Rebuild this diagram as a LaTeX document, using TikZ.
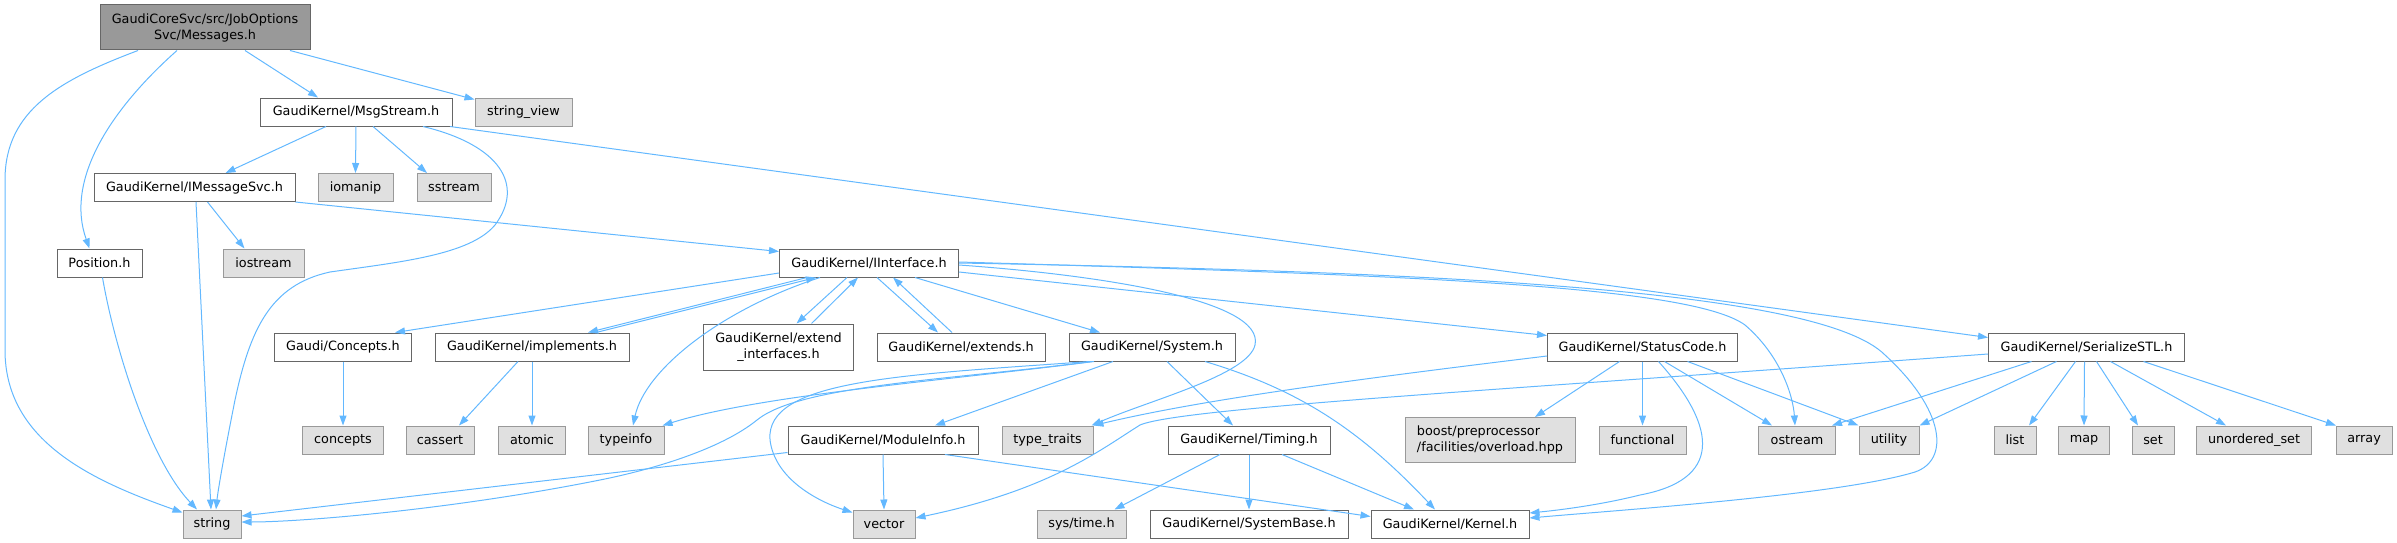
\documentclass[tikz,border=0pt]{standalone}
\usepackage{fontspec}
\setmainfont{DejaVu Sans}
\usetikzlibrary{arrows.meta}
\definecolor{edgec}{HTML}{63B8FF}
\definecolor{bord}{HTML}{666666}
\definecolor{gbord}{HTML}{999999}
\definecolor{gfill}{HTML}{E0E0E0}
\definecolor{rfill}{HTML}{999999}
\begin{document}
\begin{tikzpicture}[x=1pt,y=-1pt,
  base/.style={draw, rectangle, inner sep=0pt, minimum height=28pt, line width=1pt, font=\fontsize{12.8}{16}\selectfont, text=black},
  wn/.style={base, draw=bord, fill=white},
  gn/.style={base, draw=gbord, fill=gfill},
  rn/.style={base, draw=bord, fill=rfill, minimum height=45pt, align=center},
  dep/.style={draw=edgec, line width=1pt, -{Triangle[length=10pt,width=7pt]}},
]
\useasboundingbox (0,0) rectangle (2397,543);

\node[rn, minimum width=210pt] (root) at (205,27.5) {GaudiCoreSvc/src/JobOptions\\Svc/Messages.h};
\node[wn, minimum width=192pt] (msg) at (356,112) {GaudiKernel/MsgStream.h};
\node[gn, minimum width=97pt] (sview) at (523.5,112) {string\_view};
\node[wn, minimum width=201pt] (imsg) at (194.5,187.5) {GaudiKernel/IMessageSvc.h};
\node[gn, minimum width=75pt] (iomanip) at (355.5,187.5) {iomanip};
\node[gn, minimum width=74pt] (sstream) at (454,187.5) {sstream};
\node[wn, minimum width=85pt] (pos) at (99.5,263) {Position.h};
\node[gn, minimum width=81pt] (iostream) at (263.5,263) {iostream};
\node[wn, minimum width=179pt] (iint) at (869,263) {GaudiKernel/IInterface.h};
\node[wn, minimum width=137pt] (conh) at (343,347) {Gaudi/Concepts.h};
\node[wn, minimum width=194pt] (impl) at (532,347) {GaudiKernel/implements.h};
\node[wn, minimum width=150pt, minimum height=46pt, align=center] (extint) at (778.5,347) {GaudiKernel/extend\\\_interfaces.h};
\node[wn, minimum width=168pt] (extends) at (961,347) {GaudiKernel/extends.h};
\node[wn, minimum width=166pt] (system) at (1152,347) {GaudiKernel/System.h};
\node[wn, minimum width=190pt] (status) at (1642.5,347) {GaudiKernel/StatusCode.h};
\node[wn, minimum width=196pt] (serial) at (2086.5,347) {GaudiKernel/SerializeSTL.h};
\node[gn, minimum width=81pt] (concepts) at (343,440) {concepts};
\node[gn, minimum width=68pt] (cassert) at (440,440) {cassert};
\node[gn, minimum width=67pt] (atomic) at (532,440) {atomic};
\node[gn, minimum width=76pt] (typeinfo) at (626,440) {typeinfo};
\node[wn, minimum width=190pt] (modinfo) at (883,440) {GaudiKernel/ModuleInfo.h};
\node[gn, minimum width=91pt] (ttraits) at (1047.5,440) {type\_traits};
\node[wn, minimum width=162pt] (timing) at (1249,440) {GaudiKernel/Timing.h};
\node[gn, minimum width=170pt, minimum height=45pt, align=left] (boost) at (1490,440) {boost/preprocessor\\/facilities/overload.hpp};
\node[gn, minimum width=87pt] (functional) at (1642.5,440) {functional};
\node[gn, minimum width=77pt] (ostream) at (1797,440) {ostream};
\node[gn, minimum width=60pt] (utility) at (1889,440) {utility};
\node[gn, minimum width=42pt] (list) at (2015,440) {list};
\node[gn, minimum width=51pt] (map) at (2084,440) {map};
\node[gn, minimum width=42pt] (set) at (2153,440) {set};
\node[gn, minimum width=115pt] (uset) at (2254,440) {unordered\_set};
\node[gn, minimum width=56pt] (array) at (2364,440) {array};
\node[gn, minimum width=58pt] (string) at (212,524) {string};
\node[gn, minimum width=62pt] (vector) at (884,524) {vector};
\node[gn, minimum width=89pt] (systime) at (1081.5,524) {sys/time.h};
\node[wn, minimum width=198pt] (sysbase) at (1249,524) {GaudiKernel/SystemBase.h};
\node[wn, minimum width=158pt] (kernel) at (1450,524) {GaudiKernel/Kernel.h};

% root
\draw[dep] ([xshift=-67pt]root.south) .. controls (60,80) and (5,110) .. (5,180) -- (5,350) .. controls (5,440) and (90,480) .. ([yshift=-3pt]string.north west);
\draw[dep] ([xshift=-28pt]root.south) .. controls (110,110) and (65,180) .. ([xshift=-10pt]pos.north);
\draw[dep] ([xshift=40pt]root.south) -- ([xshift=-38pt]msg.north);
\draw[dep] ([xshift=85pt]root.south) -- ([yshift=-2pt]sview.north west);
% MsgStream
\draw[dep] ([xshift=-30pt]msg.south) -- ([xshift=31pt]imsg.north);
\draw[dep] (msg.south) -- (iomanip.north);
\draw[dep] ([xshift=17pt]msg.south) -- ([xshift=-27pt]sstream.north);
\draw[dep] ([xshift=67pt]msg.south) .. controls (500,145) and (525,185) .. (495,225) .. controls (470,255) and (400,262) .. (330,272) .. controls (270,285) and (250,330) .. (235,400) .. controls (225,450) and (218,490) .. ([xshift=4pt]string.north);
\draw[dep] ([xshift=94pt]msg.south) -- ([yshift=-5pt]serial.north west);
% IMessageSvc
\draw[dep] ([xshift=1.5pt]imsg.south) -- ([xshift=-1pt]string.north);
\draw[dep] ([xshift=13pt]imsg.south) -- ([xshift=-19pt]iostream.north);
\draw[dep] (imsg.south east) -- ([yshift=-3pt]iint.north west);
% Position
\draw[dep] ([xshift=3pt]pos.south) .. controls (115,350) and (150,460) .. ([xshift=-15pt]string.north);
% IInterface
\draw[dep] ([yshift=-10pt]iint.west) -- ([xshift=52pt]conh.north);
\draw[dep] ([xshift=-62pt]iint.south) -- ([xshift=56pt]impl.north);
\draw[dep] ([xshift=64pt]impl.north) -- ([xshift=-53pt]iint.south);
\draw[dep] ([xshift=-22pt]iint.south) -- ([xshift=18pt]extint.north);
\draw[dep] ([xshift=33pt]extint.north) -- ([xshift=-11pt]iint.south);
\draw[dep] ([xshift=8pt]iint.south) -- ([xshift=-23pt]extends.north);
\draw[dep] ([xshift=-9pt]extends.north) -- ([xshift=24pt]iint.south);
\draw[dep] ([xshift=46pt]iint.south) -- ([xshift=-52pt]system.north);
\draw[dep] ([xshift=-49pt]iint.south) .. controls (720,310) and (645,370) .. ([xshift=7pt]typeinfo.north);
\draw[dep] ([yshift=-2pt]iint.east) .. controls (1100,275) and (1265,300) .. (1255,345) .. controls (1248,375) and (1150,400) .. ([xshift=-2pt]ttraits.north east);
\draw[dep] ([yshift=-9pt]iint.east) -- ([yshift=-3pt]status.north west);
\draw[dep] ([yshift=1pt]iint.east) .. controls (1400,275) and (1690,285) .. (1745,325) .. controls (1780,355) and (1793,395) .. ([xshift=-2pt]ostream.north);
\draw[dep] (iint.east) .. controls (1450,272) and (1820,290) .. (1885,355) .. controls (1945,410) and (1950,460) .. (1915,472) .. controls (1840,495) and (1620,510) .. ([yshift=6pt]kernel.east);
% Concepts, implements
\draw[dep] (conh.south) -- (concepts.north);
\draw[dep] ([xshift=-14pt]impl.south) -- ([xshift=19pt]cassert.north);
\draw[dep] (impl.south) -- (atomic.north);
% System
\draw[dep] ([xshift=-39pt]system.south) -- ([xshift=52pt]modinfo.north);
\draw[dep] ([xshift=15pt]system.south) -- ([xshift=-16pt]timing.north);
\draw[dep] ([xshift=53pt]system.south) .. controls (1300,390) and (1360,430) .. ([xshift=-15pt]kernel.north);
\draw[dep] ([xshift=-58pt]system.south) .. controls (950,380) and (760,395) .. ([xshift=-2pt]typeinfo.north east);
\draw[dep] ([xshift=-60pt]system.south) .. controls (950,380) and (800,385) .. (757,420) .. controls (720,450) and (650,470) .. (600,480) .. controls (450,510) and (300,522) .. ([yshift=2pt]string.east);
\draw[dep] ([xshift=-62pt]system.south) .. controls (900,375) and (765,380) .. (770,440) .. controls (775,480) and (820,502) .. ([yshift=-3pt]vector.north west);
% ModuleInfo
\draw[dep] ([yshift=2pt]modinfo.south west) -- ([yshift=8pt]string.east);
\draw[dep] (modinfo.south) -- (vector.north);
\draw[dep] ([xshift=62pt]modinfo.south) -- ([yshift=-7pt]kernel.north west);
% Timing
\draw[dep] ([xshift=-29pt]timing.south) -- ([xshift=33pt]systime.north);
\draw[dep] (timing.south) -- (sysbase.north);
\draw[dep] ([xshift=33pt]timing.south) -- ([xshift=-36pt]kernel.north);
% StatusCode
\draw[dep] ([yshift=-9pt]status.west) .. controls (1350,380) and (1200,400) .. ([xshift=0pt]ttraits.north east);
\draw[dep] ([xshift=-23pt]status.south) -- ([xshift=45pt]boost.north);
\draw[dep] (status.south) -- (functional.north);
\draw[dep] ([xshift=16pt]status.south) .. controls (1720,430) and (1720,480) .. (1640,495) .. controls (1600,505) and (1560,510) .. ([yshift=11pt]kernel.east);
\draw[dep] ([xshift=22pt]status.south) -- ([xshift=-25pt]ostream.north);
\draw[dep] ([xshift=45pt]status.south) -- (utility.north west);
% SerializeSTL
\draw[dep] ([yshift=-7pt]serial.west) .. controls (1500,390) and (1180,408) .. (1140,425) .. controls (1100,450) and (1050,490) .. ([yshift=6pt]vector.east);
\draw[dep] ([xshift=-55pt]serial.south) -- ([xshift=35pt]ostream.north);
\draw[dep] ([xshift=-30pt]serial.south) -- (utility.north east);
\draw[dep] ([xshift=-11pt]serial.south) -- ([xshift=14pt]list.north);
\draw[dep] ([xshift=-2pt]serial.south) -- (map.north);
\draw[dep] ([xshift=10pt]serial.south) -- ([xshift=-15pt]set.north);
\draw[dep] ([xshift=24pt]serial.south) -- ([xshift=-28pt]uset.north);
\draw[dep] ([xshift=57pt]serial.south) -- ([xshift=-28pt]array.north);
\end{tikzpicture}
\end{document}
